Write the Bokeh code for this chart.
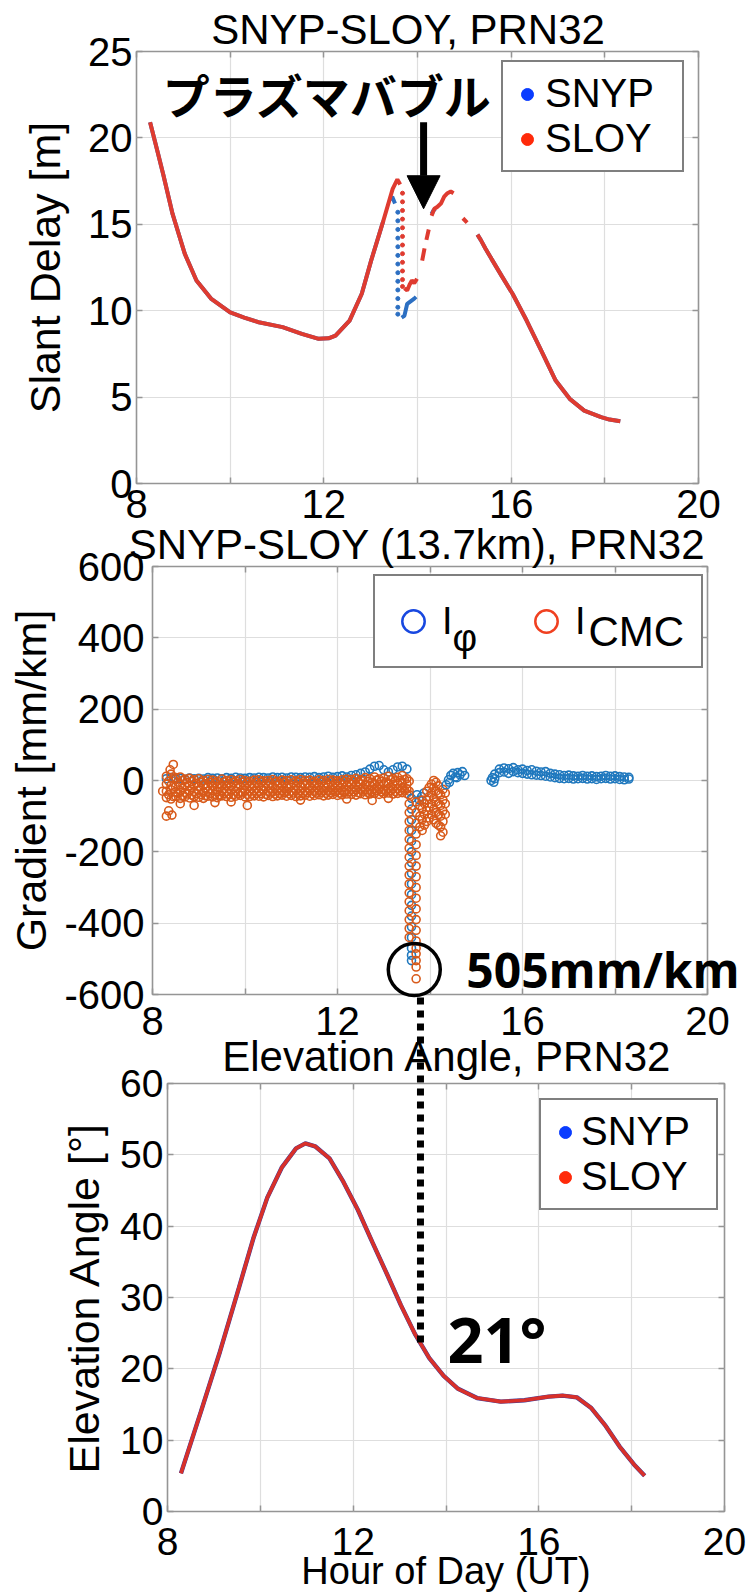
import numpy as np
from bokeh.plotting import figure
from bokeh.models import (Range1d, FixedTicker, Legend, LegendItem, Label, Arrow, NormalHead,
                          LinearAxis)
from bokeh.embed import file_html
from bokeh.resources import INLINE

NaN = float("nan")
FONT = "Liberation Sans"
NBSP = "\u00a0"

# ---------------- shared axis ticks ----------------
hour_ticks = [8, 10, 12, 14, 16, 18, 20]
hour_labels = ["8", "", "12", "", "16", "", "20"]

# ---------------- panel 1: slant delay [m] ----------------
delay_ticks = [0, 5, 10, 15, 20, 25]
delay_labels = ["0", "5", "10", "15", "20", "25"]

# common track before the bubble
pre_t = [8.29, 8.45, 8.57, 8.77, 9.03, 9.28, 9.59, 10.0, 10.3, 10.61, 11.12,
         11.53, 11.89, 12.1, 12.25, 12.55, 12.81, 13.01, 13.27]
pre_d = [20.9, 19.2, 17.9, 15.6, 13.3, 11.75, 10.7, 9.9, 9.6, 9.33, 9.05,
         8.66, 8.37, 8.4, 8.56, 9.43, 10.98, 12.9, 15.2]
# common track after the bubble
post_t = [15.28, 15.35, 15.45, 15.58, 15.8, 16.03, 16.33, 16.64, 16.95, 17.25,
          17.56, 17.92, 18.1, 18.33]
post_d = [14.4, 14.1, 13.6, 13.0, 12.0, 10.98, 9.43, 7.7, 5.96, 4.9,
          4.22, 3.84, 3.7, 3.6]

# SLOY inside the bubble
sloy_peak_t = [13.47, 13.57, 13.63]
sloy_peak_d = [17.05, 17.6, 17.3]
sloy_drop_t = [13.68] * 12
sloy_drop_d = [16.8, 16.3, 15.8, 15.3, 14.8, 14.3, 13.8, 13.3, 12.8, 12.3, 11.8, 11.4]
sloy_low_t = [13.72, 13.78, 13.83, 13.88, 13.93, 13.99]
sloy_low_d = [11.3, 11.17, 11.5, 11.75, 11.6, 11.85]
sloy_c1_t, sloy_c1_d = [14.1, 14.15], [12.9, 13.6]
sloy_c2_t, sloy_c2_d = [14.19, 14.24], [14.1, 14.7]
sloy_rise_t = [14.3, 14.36, 14.42, 14.5, 14.57, 14.64, 14.71, 14.77]
sloy_rise_d = [15.5, 15.9, 16.0, 16.2, 16.6, 16.8, 16.9, 16.8]
sloy_e_t, sloy_e_d = [14.97, 15.06], [15.35, 15.1]

# SNYP inside the bubble
snyp_peak_t = [13.4, 13.46, 13.52]
snyp_peak_d = [16.4, 16.6, 16.2]
snyp_drop_t = [13.58] * 13
snyp_drop_d = [15.7, 15.2, 14.7, 14.2, 13.7, 13.2, 12.7, 12.2, 11.7, 11.2, 10.7, 10.2, 9.8]
snyp_low_t = [13.66, 13.72, 13.78, 13.83, 13.88, 13.93, 13.97]
snyp_low_d = [9.6, 9.7, 10.4, 10.5, 10.6, 10.7, 10.8]
snyp_rise_t = [14.3, 14.34, 14.38]
snyp_rise_d = [15.6, 15.8, 15.9]

# ---------------- panel 2: gradient [mm/km] ----------------
grad_ticks = [-600, -400, -200, 0, 200, 400, 600]
grad_labels = ["-600", "-400", "-200", "0", "200", "400", "600"]

band_t = np.round(np.arange(8.3, 13.55, 0.1), 2)       # 6-minute samples
band_th = np.round(band_t + 0.05, 2)                   # interleaved samples
cmc_r1 = [12, 18, 8, 10, 4, 6, 2, 5, 0, 3,
          1, -2, 4, 0, 2, -1, 3, 0, -2, 1,
          2, -1, 0, 3, -2, 1, 0, 2, -1, 3,
          0, 1, -2, 2, 0, 3, 1, -1, 2, 4,
          3, 6, 2, 8, 5, 10, 4, 7, 12, 6,
          9, 14, 5]
cmc_h1 = [-2, 5, -4, 0, -6, -3, -8, -5, -9, -6,
          -7, -10, -4, -8, -6, -9, -5, -7, -10, -6,
          -5, -9, -7, -4, -8, -6, -10, -7, -5, -8,
          -9, -6, -8, -5, -7, -4, -8, -6, -3, -5,
          -2, -4, 0, -3, -5, 1, -2, -4, 2, -1,
          0, 3, -2]
cmc_r2 = [-10, -14, -18, -12, -16, -15, -13, -17, -14, -16,
          -15, -18, -13, -16, -14, -17, -15, -13, -16, -14,
          -15, -17, -14, -16, -13, -15, -18, -14, -16, -15,
          -13, -16, -15, -14, -17, -13, -15, -16, -12, -14,
          -11, -13, -10, -12, -14, -9, -12, -10, -8, -11,
          -9, -6, -10]
cmc_r3 = [-30, -26, -32, -28, -34, -29, -31, -27, -33, -30,
          -28, -32, -29, -31, -27, -30, -33, -28, -30, -29,
          -31, -27, -30, -32, -28, -29, -31, -30, -27, -29,
          -30, -28, -31, -27, -29, -30, -26, -28, -29, -27,
          -25, -27, -24, -26, -28, -23, -25, -27, -22, -24,
          -23, -20, -24]
cmc_h2 = [-40, -45, -36, -42, -38, -41, -37, -40, -43, -36,
          -39, -41, -36, -38, -40, -37, -35, -39, -38, -36,
          -37, -39, -35, -38, -36, -34, -37, -35, -38, -36,
          -34, -37, -35, -33, -36, -34, -32, -35, -33, -31,
          -32, -34, -30, -33, -31, -29, -32, -30, -28, -31,
          -29, -27, -30]
cmc_r4 = [-48, -52, -44, -50, -46, -49, -45, -47, -50, -44,
          -46, -48, -43, -45, -47, -44, -42, -46, -45, -43,
          -44, -46, -42, -45, -43, -41, -44, -42, -45, -43,
          -41, -44, -42, -40, -43, -41, -39, -42, -40, -38,
          -39, -41, -37, -40, -38, -36, -39, -37, -35, -38,
          -36, -34, -37]
cmc_out_t = [8.22, 8.3, 8.35, 8.42, 8.45, 8.38, 8.6, 8.9, 9.35, 9.7, 10.05, 11.2, 12.2, 12.75, 13.1]
cmc_out_g = [-30, -100, -85, -97, 45, 30, -65, -70, -62, -60, -70, -55, -52, -56, -50]

phi_r1 = [5, 8, 4, 6, 3, 7, 5, 6, 4, 8,
          6, 7, 5, 8, 6, 9, 7, 6, 8, 7,
          9, 8, 7, 10, 8, 9, 7, 10, 9, 8,
          10, 9, 11, 8, 10, 12, 9, 11, 13, 10,
          14, 16, 20, 24, 32, 40, 42, 30, 24, 30,
          38, 40, 32]

# the dip
phi_dip_t = [13.6] * 17
phi_dip_g = [-50, -80, -110, -140, -170, -200, -230, -260, -290, -320,
             -350, -380, -410, -440, -470, -490, -505]
cmc_dipL_t = [13.55] * 17
cmc_dipL_g = [-40, -65, -90, -115, -140, -165, -190, -215, -240, -265,
              -290, -315, -340, -365, -390, -415, -440]
cmc_dipR_t = [13.7] * 19
cmc_dipR_g = [-60, -90, -120, -150, -180, -210, -240, -270, -300, -330,
              -360, -390, -420, -450, -470, -486, -505, -523, -556]
phi_v_t = [13.72, 13.77, 13.82, 13.87]
phi_v_g = [-40, -55, -45, -35]

# recovery after the dip
cmc_rec_t = ([13.78] * 3 + [13.83] * 4 + [13.88] * 3 + [13.93] * 4 + [13.98] * 4 +
             [14.03] * 4 + [14.08] * 5 + [14.13] * 5 + [14.18] * 5 + [14.23] * 5 +
             [14.28] * 5 + [14.33] * 3)
cmc_rec_g = [-130, -100, -70,
             -140, -110, -80, -55,
             -125, -95, -65,
             -115, -85, -55, -30,
             -105, -75, -45, -20,
             -95, -65, -35, -10,
             -110, -80, -50, -20, 0,
             -120, -90, -60, -30, -5,
             -125, -95, -65, -35, -15,
             -155, -130, -100, -70, -40,
             -145, -115, -85, -55, -25,
             -95, -65, -35]
phi_rec_t = [14.35, 14.4, 14.45, 14.5, 14.55, 14.6, 14.65, 14.7, 14.75, 14.42, 14.58]
phi_rec_g = [-12, 2, 14, 20, 10, 22, 16, 25, 14, -5, 8]

# late arc, phase only
tail_t = np.round(np.arange(15.4, 18.35, 0.1), 2)
tail_r1 = [18, 32, 35, 33, 36, 30, 32, 28, 30, 26, 24, 25, 20, 18, 16,
           14, 15, 13, 12, 14, 12, 13, 11, 12, 14, 12, 13, 11, 10, 9]
tail_r2 = [5, 22, 24, 20, 25, 22, 20, 18, 16, 15, 14, 12, 10, 8, 6,
           5, 6, 4, 5, 6, 4, 5, 3, 5, 6, 4, 5, 3, 2, 4]
tail_head_t = [15.32, 15.35, 15.38]
tail_head_g = [0, 8, -5]

# deepest gradient (marked) and the hour where the guide meets panel 3
peak_t, peak_g = 13.66, -530
guide_t = 13.45

# ---------------- panel 3: elevation [deg] ----------------
elev_ticks = [0, 10, 20, 30, 40, 50, 60]
elev_labels = ["0", "10", "20", "30", "40", "50", "60"]
elev_t = [8.29, 8.72, 9.13, 9.54, 9.85, 10.15, 10.46, 10.77, 10.97, 11.18, 11.49,
          11.79, 12.1, 12.41, 12.72, 13.03, 13.33, 13.64, 13.95, 14.26, 14.67,
          15.18, 15.69, 16.21, 16.51, 16.82, 17.13, 17.44, 17.74, 18.05, 18.28]
elev_deg = [5.35, 14.0, 22.4, 31.4, 38.3, 44.0, 48.2, 50.9, 51.6, 51.2, 49.5,
            46.2, 42.3, 37.8, 33.4, 28.9, 24.9, 21.5, 19.0, 17.2, 15.9,
            15.4, 15.6, 16.1, 16.25, 16.0, 14.5, 12.0, 9.1, 6.6, 5.0]

# ---------------- colours ----------------
BLUE, RED = "#2c6fc2", "#df3b30"
LEG_BLUE, LEG_RED = "#0a3cff", "#ff2a0a"
PHI, CMC = "#1f78be", "#d85a1a"
GRID, FRAME = "#dedede", "#959595"

# ---------------- page geometry (px) ----------------
PAGE_W, PAGE_H = 747, 1594
F1 = dict(left=136, right=698, top=51, bottom=483, y0=0, y1=25)
F2 = dict(left=152, right=707, top=566, bottom=994, y0=-600, y1=600)
F3 = dict(left=167, right=724, top=1083, bottom=1511, y0=0, y1=60)
CUTS = [0, 530, 1050, PAGE_H]


def page_x(F, t):
    return F["left"] + (t - 8) / 12 * (F["right"] - F["left"])


def page_y(F, v):
    return F["bottom"] - (v - F["y0"]) / (F["y1"] - F["y0"]) * (F["bottom"] - F["top"])


def joined(*segs):
    xs, ys = [], []
    for i, (sx, sy) in enumerate(segs):
        if i:
            xs.append(NaN)
            ys.append(NaN)
        n = min(len(sx), len(sy))
        xs += list(sx)[:n]
        ys += list(sy)[:n]
    return xs, ys


def pair(x, y):
    n = min(len(x), len(y))
    return list(x)[:n], list(y)[:n]


def tick_only_axis(ticker, ticks):
    # box-style ticks on the top and right edges, without labels
    return LinearAxis(ticker=ticker, major_label_overrides={t: "" for t in ticks},
                      axis_line_color=None, major_tick_in=6, major_tick_out=0,
                      major_tick_line_color=FRAME, major_tick_line_width=1.5,
                      minor_tick_line_color=None, major_label_standoff=0)


def make_fig(F, y_top, y_bot, yticks, ylabels):
    p = figure(width=PAGE_W, height=y_bot - y_top,
               x_range=Range1d(8, 20), y_range=Range1d(F["y0"], F["y1"]),
               output_backend="svg", toolbar_location=None,
               min_border_top=F["top"] - y_top, min_border_bottom=y_bot - F["bottom"],
               min_border_left=F["left"], min_border_right=PAGE_W - F["right"])
    xt = FixedTicker(ticks=hour_ticks)
    yt = FixedTicker(ticks=yticks)
    xa, ya = p.below[0], p.left[0]
    xa.ticker = xt
    p.xgrid.ticker = xt
    ya.ticker = yt
    p.ygrid.ticker = yt
    xa.major_label_overrides = dict(zip(hour_ticks, hour_labels))
    ya.major_label_overrides = dict(zip(yticks, ylabels))
    p.grid.grid_line_color = GRID
    p.grid.grid_line_width = 1.2
    p.outline_line_color = FRAME
    p.outline_line_width = 1.6
    for ax in (xa, ya):
        ax.axis_line_color = None
        ax.major_tick_in = 6
        ax.major_tick_out = 0
        ax.major_tick_line_color = FRAME
        ax.major_tick_line_width = 1.5
        ax.minor_tick_line_color = None
        ax.major_label_text_font = FONT
        ax.major_label_text_font_size = "40px"
        ax.major_label_text_color = "black"
        ax.axis_label_text_font = FONT
        ax.axis_label_text_font_style = "normal"
        ax.axis_label_text_font_size = "43px"
        ax.axis_label_text_color = "black"
    p.add_layout(tick_only_axis(xt, hour_ticks), "above")
    p.add_layout(tick_only_axis(yt, yticks), "right")
    return p, xa, ya


def dot_legend(p, r1, r2, loc, lw, standoff):
    leg = Legend(items=[LegendItem(label="SNYP", renderers=[r1]),
                        LegendItem(label="SLOY", renderers=[r2])],
                 location=loc, padding=9, spacing=0,
                 glyph_width=30, glyph_height=44, label_standoff=standoff, label_width=lw,
                 label_text_font=FONT, label_text_font_size="40px", label_text_color="black",
                 border_line_color="black", border_line_width=2,
                 background_fill_color="white", background_fill_alpha=1)
    p.add_layout(leg)


# ======== panel 1 ========
p1, x1, y1 = make_fig(F1, CUTS[0], CUTS[1], delay_ticks, delay_labels)
y1.axis_label = "Slant Delay [m]"
y1.major_label_standoff = 4
y1.axis_label_standoff = 16
x1.major_label_standoff = 6

sx, sy = joined((pre_t, pre_d), (snyp_peak_t, snyp_peak_d), (snyp_low_t, snyp_low_d),
                (snyp_rise_t, snyp_rise_d), (post_t, post_d))
rx, ry = joined((pre_t + sloy_peak_t, pre_d + sloy_peak_d), (sloy_low_t, sloy_low_d),
                (sloy_c1_t, sloy_c1_d), (sloy_c2_t, sloy_c2_d), (sloy_rise_t, sloy_rise_d),
                (sloy_e_t, sloy_e_d), (post_t, post_d))
p1.line(sx, sy, line_color=BLUE, line_width=4)
p1.scatter(*pair(snyp_drop_t, snyp_drop_d), size=4, color=BLUE)
p1.line(rx, ry, line_color=RED, line_width=4)
p1.scatter(*pair(sloy_drop_t, sloy_drop_d), size=4, color=RED)

# legend keys (single off-range sample each)
lb1 = p1.scatter(x=[-100], y=[-100], size=12, color=LEG_BLUE)
lr1 = p1.scatter(x=[-100], y=[-100], size=12, color=LEG_RED)
dot_legend(p1, lb1, lr1, (365, 311), 128, 3)

p1.add_layout(Label(x=8.56, y=22.55, text="プラズマバブル", text_align="left", text_baseline="middle",
                    text_font="Noto Sans CJK JP", text_font_style="bold", text_font_size="47px",
                    text_color="black"))
p1.add_layout(Arrow(x_start=14.13, y_start=20.9, x_end=14.13, y_end=15.9,
                    line_color="black", line_width=7,
                    end=NormalHead(size=33, fill_color="black", line_color="black", line_width=1)))

# ======== panel 2 ========
p2, x2, y2 = make_fig(F2, CUTS[1], CUTS[2], grad_ticks, grad_labels)
y2.axis_label = "Gradient [mm/km]"
y2.major_label_standoff = 8
y2.axis_label_standoff = 6
x2.major_label_standoff = 12

ring = dict(marker="circle", size=8, fill_color=None, line_width=1.6)
p2.scatter(*pair(band_t, phi_r1), line_color=PHI, **ring)
for row in (cmc_r1, cmc_r2, cmc_r3, cmc_r4):
    p2.scatter(*pair(band_t, row), line_color=CMC, **ring)
for row in (cmc_h1, cmc_h2):
    p2.scatter(*pair(band_th, row), line_color=CMC, **ring)
p2.scatter(*pair(cmc_out_t, cmc_out_g), line_color=CMC, **ring)
p2.scatter(*pair(phi_dip_t, phi_dip_g), line_color=PHI, **ring)
p2.scatter(*pair(phi_v_t, phi_v_g), line_color=PHI, **ring)
p2.scatter(*pair(cmc_dipL_t, cmc_dipL_g), line_color=CMC, **ring)
p2.scatter(*pair(cmc_dipR_t, cmc_dipR_g), line_color=CMC, **ring)
p2.scatter(*pair(cmc_rec_t, cmc_rec_g), line_color=CMC, **ring)
p2.scatter(*pair(phi_rec_t, phi_rec_g), line_color=PHI, **ring)
p2.scatter(*pair(tail_head_t, tail_head_g), line_color=PHI, **ring)
p2.scatter(*pair(tail_t, tail_r2), line_color=PHI, **ring)
p2.scatter(*pair(tail_t, tail_r1), line_color=PHI, **ring)

lphi = p2.scatter(x=[-100], y=[-1000], marker="circle", size=20, fill_color=None,
                  line_color="#1848e0", line_width=2.5)
lcmc = p2.scatter(x=[-100], y=[-1000], marker="circle", size=20, fill_color=None,
                  line_color="#f04020", line_width=2.5)
L2_PAD, L2_GW, L2_GH, L2_STAND, L2_LW, L2_SP = 10, 56, 70, 1, 60, 16
L2_LEFT, L2_TOP = 373, 578
leg2 = Legend(items=[LegendItem(label="I", renderers=[lphi]),
                     LegendItem(label="I" + NBSP * 10, renderers=[lcmc])],
              orientation="horizontal",
              location=(L2_LEFT - F2["left"], F2["bottom"] - (L2_TOP + 2 * L2_PAD + L2_GH)),
              padding=L2_PAD, spacing=L2_SP, glyph_width=L2_GW, glyph_height=L2_GH,
              label_standoff=L2_STAND, label_width=L2_LW,
              label_text_font=FONT, label_text_font_size="38px", label_text_color="black",
              border_line_color="black", border_line_width=2,
              background_fill_color="white", background_fill_alpha=1)
p2.add_layout(leg2)

# ======== panel 3 ========
p3, x3, y3 = make_fig(F3, CUTS[2], CUTS[3], elev_ticks, elev_labels)
y3.axis_label = "Elevation Angle [°]"
x3.axis_label = "Hour of Day (UT)"
x3.axis_label_text_font_size = "38px"
x3.major_label_text_font_size = "39px"
y3.major_label_text_font_size = "39px"
y3.major_label_standoff = 4
y3.axis_label_standoff = 9
x3.major_label_standoff = 16
x3.axis_label_standoff = -8

p3.line(elev_t, elev_deg, line_color="#3a3fa0", line_width=4.4)
p3.line(elev_t, elev_deg, line_color="#d8302a", line_width=3.6)

lb3 = p3.scatter(x=[-100], y=[-100], size=12, color=LEG_BLUE)
lr3 = p3.scatter(x=[-100], y=[-100], size=12, color=LEG_RED)
dot_legend(p3, lb3, lr3, (372, 301), 126, 1)

p3.add_layout(Label(x=14.03, y=24.3, text="21°", text_baseline="middle",
                    text_font="Open Sans", text_font_style="bold", text_font_size="63px",
                    text_color="black"))

# ======== page overlay: titles and marks that cross panel borders ========
ov = figure(width=PAGE_W, height=PAGE_H, x_range=Range1d(0, PAGE_W), y_range=Range1d(PAGE_H, 0),
            output_backend="svg", toolbar_location=None, min_border=0,
            x_axis_type=None, y_axis_type=None, outline_line_color=None,
            background_fill_alpha=0, border_fill_alpha=0,
            styles={"position": "absolute", "top": "0px", "left": "0px"})


def page_text(x, y, text, size, font=FONT, style="normal", align="center"):
    ov.add_layout(Label(x=x, y=y, text=text, text_align=align, text_baseline="middle",
                        text_font=font, text_font_style=style, text_font_size=size,
                        text_color="black"))


page_text(407.5, 29, "SNYP-SLOY, PRN32", "42px")
page_text(416.5, 543.5, "SNYP-SLOY (13.7km), PRN32", "42px")
page_text(447, 1056, "Elevation Angle, PRN32", "42px")

# subscripts of the gradient legend
i1_x = L2_LEFT + L2_PAD + L2_GW + L2_STAND
i2_x = i1_x + L2_LW + L2_SP + L2_GW + L2_STAND
row_mid = L2_TOP + L2_PAD + L2_GH / 2
page_text(i1_x + 12, row_mid + 14, "φ", "38px", align="left")
page_text(i2_x + 15, row_mid + 8, "CMC", "42px", align="left")

# ring around the deepest gradient, its value, and the guide down to the elevation curve
cx, cy = page_x(F2, peak_t), page_y(F2, peak_g)
ov.scatter(x=[cx], y=[cy], marker="circle", size=52, fill_color=None,
           line_color="black", line_width=3.5)
page_text(cx + 52, cy, "505mm/km", "48px", font="Open Sans", style="bold", align="left")
gx = page_x(F3, guide_t)
gy = page_y(F3, float(np.interp(guide_t, elev_t, elev_deg)))
ov.segment(x0=[gx], y0=[cy + 28], x1=[gx], y1=[gy], line_color="black",
           line_width=7, line_dash="7 6", line_cap="butt")

open("out.html", "w").write(file_html([p1, p2, p3, ov], INLINE))
